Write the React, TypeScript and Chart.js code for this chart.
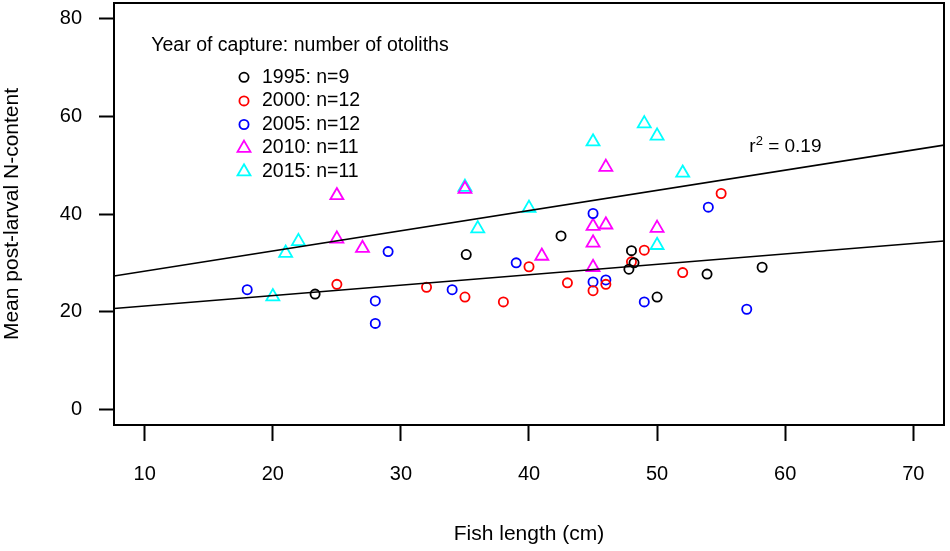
import React, { useEffect, useRef } from "react";
import { Chart, registerables } from "chart.js";

Chart.register(...registerables);

// ---- data -------------------------------------------------------------
const xTicks = [10, 20, 30, 40, 50, 60, 70];
const yTicks = [0, 20, 40, 60, 80];
const xLimits = [7.6, 72.4];
const yLimits = [-3.2, 83.2];

const years = ["1995", "2000", "2005", "2010", "2015"];
const counts = [9, 12, 12, 11, 11];
const colors = ["#000000", "#FF0000", "#0000FF", "#FF00FF", "#00FFFF"];
const markers = ["circle", "circle", "circle", "triangle", "triangle"];

const len1995 = [23.3, 35.1, 42.5, 48.0, 48.2, 47.8, 50.0, 53.9, 58.2];
const nc1995 = [23.6, 31.7, 35.5, 32.5, 30.0, 28.7, 23.0, 27.7, 29.1];

const len2000 = [25.0, 32.0, 35.0, 38.0, 40.0, 43.0, 45.0, 46.0, 48.0, 49.0, 52.0, 55.0];
const nc2000 = [25.6, 25.0, 23.0, 22.0, 29.2, 25.9, 24.3, 25.6, 30.2, 32.6, 28.0, 44.2];

const len2005 = [18.0, 29.0, 28.0, 28.0, 34.0, 39.0, 45.0, 45.0, 46.0, 49.0, 54.0, 57.0];
const nc2005 = [24.5, 32.3, 22.2, 17.6, 24.5, 30.0, 40.1, 26.1, 26.5, 22.0, 41.4, 20.5];

const len2010 = [25.0, 25.0, 27.0, 35.0, 46.0, 45.0, 46.0, 50.0, 45.0, 41.0, 45.0];
const nc2010 = [43.8, 34.9, 33.0, 45.1, 49.6, 37.5, 37.8, 37.1, 34.1, 31.4, 29.1];

const len2015 = [49.0, 50.0, 45.0, 52.0, 35.0, 40.0, 36.0, 50.0, 22.0, 21.0, 20.0];
const nc2015 = [58.5, 56.0, 54.8, 48.4, 45.5, 41.2, 37.0, 33.6, 34.4, 32.0, 23.1];

const lengths = [len1995, len2000, len2005, len2010, len2015];
const contents = [nc1995, nc2000, nc2005, nc2010, nc2015];

// regression lines: y = a + b * x
const fitIntercepts = [24.16, 19.03];
const fitSlopes = [0.4136, 0.2131];
const r2Text = "0.19";

const FONT = "'Liberation Sans', Arial, Helvetica, sans-serif";

function drawMarker(ctx: CanvasRenderingContext2D, style: string, x: number, y: number, color: string) {
  ctx.save();
  ctx.strokeStyle = color;
  ctx.lineWidth = 1.8;
  ctx.beginPath();
  if (style === "triangle") {
    const r = 7.5;
    for (let i = 0; i < 3; i++) {
      const a = (i * 2 * Math.PI) / 3;
      const px = x + Math.sin(a) * r;
      const py = y - Math.cos(a) * r;
      if (i === 0) ctx.moveTo(px, py);
      else ctx.lineTo(px, py);
    }
    ctx.closePath();
  } else {
    ctx.arc(x, y, 4.6, 0, Math.PI * 2);
  }
  ctx.stroke();
  ctx.restore();
}

const decorPlugin = {
  id: "decor",
  afterDatasetsDraw(chart: any) {
    const { ctx, chartArea, scales } = chart;
    ctx.save();
    // frame
    ctx.strokeStyle = "#000";
    ctx.lineWidth = 2;
    ctx.strokeRect(chartArea.left, chartArea.top, chartArea.right - chartArea.left, chartArea.bottom - chartArea.top);

    // legend
    ctx.fillStyle = "#000";
    ctx.font = `19.5px ${FONT}`;
    ctx.textBaseline = "middle";
    ctx.textAlign = "center";
    ctx.fillText("Year of capture: number of otoliths", 300, 46);
    ctx.textAlign = "left";
    years.forEach((yr, i) => {
      const yy = 77.3 + i * 23.6;
      drawMarker(ctx, markers[i], 244, yy, colors[i]);
      ctx.fillStyle = "#000";
      ctx.fillText(`${yr}: n=${counts[i]}`, 262, yy);
    });

    // r^2 annotation
    const ax = scales.x.getPixelForValue(57.2);
    const ay = scales.y.getPixelForValue(52.7);
    ctx.textBaseline = "alphabetic";
    ctx.font = `19px ${FONT}`;
    ctx.fillText("r", ax, ay);
    const rw = ctx.measureText("r").width;
    ctx.font = `13px ${FONT}`;
    ctx.fillText("2", ax + rw, ay - 7);
    const sw = ctx.measureText("2").width;
    ctx.font = `19px ${FONT}`;
    ctx.fillText(" = " + r2Text, ax + rw + sw, ay);
    ctx.restore();
  },
};

export default function App() {
  const canvasRef = useRef<HTMLCanvasElement | null>(null);

  useEffect(() => {
    if (!canvasRef.current) return;
    const pointSets = years.map((yr, i) => ({
      type: "scatter" as const,
      label: `${yr}: n=${counts[i]}`,
      data: lengths[i].map((x, j) => ({ x, y: contents[i][j] })),
      pointStyle: markers[i],
      pointRadius: markers[i] === "triangle" ? 7.5 : 4.6,
      pointBorderWidth: 1.8,
      pointBorderColor: colors[i],
      pointBackgroundColor: "rgba(0,0,0,0)",
      showLine: false,
    }));
    const lineSets = fitIntercepts.map((a, k) => ({
      type: "line" as const,
      label: `fit ${k + 1}`,
      data: xLimits.map((x) => ({ x, y: a + fitSlopes[k] * x })),
      borderColor: "#000",
      borderWidth: 1.6,
      pointRadius: 0,
      fill: false,
      tension: 0,
    }));

    const tickFont = { family: FONT, size: 20 };
    const titleFont = { family: FONT, size: 21 };

    const chart = new Chart(canvasRef.current, {
      type: "scatter",
      data: { datasets: [...lineSets, ...pointSets] as any },
      plugins: [decorPlugin],
      options: {
        responsive: false,
        animation: false,
        layout: { autoPadding: false, padding: { top: 3, right: 6, left: 0, bottom: 4 } },
        plugins: { legend: { display: false }, tooltip: { enabled: false } },
        scales: {
          x: {
            type: "linear",
            min: xLimits[0],
            max: xLimits[1],
            afterBuildTicks: (s: any) => {
              s.ticks = xTicks.map((v) => ({ value: v }));
            },
            afterFit: (s: any) => {
              s.height = 122;
              s.paddingLeft = 0;
              s.paddingRight = 0;
            },
            grid: { drawOnChartArea: false, drawTicks: true, tickLength: 16, tickWidth: 2, tickColor: "#000" },
            border: { display: false },
            ticks: { color: "#000", font: tickFont, padding: 21, maxRotation: 0, autoSkip: false },
            title: { display: true, text: "Fish length (cm)", color: "#000", font: titleFont, padding: 0 },
          },
          y: {
            type: "linear",
            min: yLimits[0],
            max: yLimits[1],
            afterBuildTicks: (s: any) => {
              s.ticks = yTicks.map((v) => ({ value: v }));
            },
            afterFit: (s: any) => {
              s.width = 114;
              s.paddingTop = 0;
              s.paddingBottom = 0;
            },
            grid: { drawOnChartArea: false, drawTicks: true, tickLength: 15, tickWidth: 2, tickColor: "#000" },
            border: { display: false },
            ticks: { color: "#000", font: tickFont, padding: 17, autoSkip: false },
            title: { display: true, text: "Mean post-larval N-content", color: "#000", font: titleFont, padding: 0 },
          },
        },
      } as any,
    });
    return () => chart.destroy();
  }, []);

  return (
    <div style={{ position: "fixed", left: 0, top: 0, width: 950, height: 551, background: "#fff" }}>
      <canvas ref={canvasRef} width={950} height={551} style={{ width: 950, height: 551, display: "block" }} />
    </div>
  );
}
